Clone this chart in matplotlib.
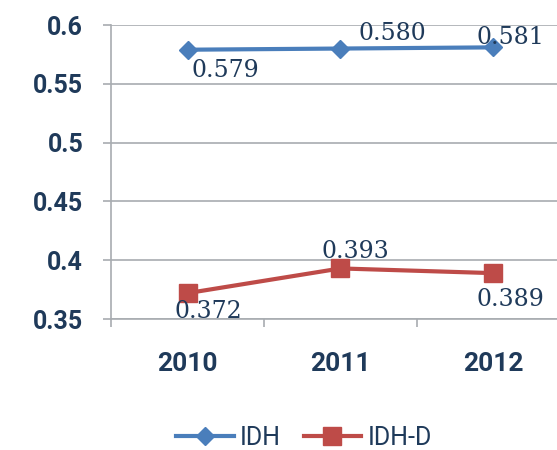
import matplotlib
matplotlib.use("Agg")
import matplotlib.pyplot as plt

# values
years = ["2010", "2011", "2012"]
idh = [0.579, 0.580, 0.581]
idh_d = [0.372, 0.393, 0.389]
y_ticks = [0.35, 0.4, 0.45, 0.5, 0.55, 0.6]
y_tick_labels = ["0.35", "0.4", "0.45", "0.5", "0.55", "0.6"]

navy = "#1f3a5a"
grid_grey = "#a8acb0"
blue = "#4a7ebb"
red = "#be4b48"

fig = plt.figure(figsize=(5.57, 4.5), dpi=100)
ax = fig.add_axes([0.1993, 0.2911, 0.824, 0.6533])

x = list(range(len(years)))
ax.plot(x, idh, color=blue, lw=3, marker="D", ms=9, label="IDH", zorder=3)
ax.plot(x, idh_d, color=red, lw=3, marker="s", ms=13, label="IDH-D", zorder=3)

# data labels, offsets in points (Excel put them a bit all over the place)
offsets_idh = [(27, -15), (37, 11), (12, 7)]
offsets_idh_d = [(15, -13), (11, 12), (12, -19)]
for xi, v, off in zip(x, idh, offsets_idh):
    ax.annotate(f"{v:.3f}", (xi, v), xytext=off, textcoords="offset points",
                ha="center", va="center", fontsize=17, family="DejaVu Serif",
                color=navy, zorder=4)
for xi, v, off in zip(x, idh_d, offsets_idh_d):
    ax.annotate(f"{v:.3f}", (xi, v), xytext=off, textcoords="offset points",
                ha="center", va="center", fontsize=17, family="DejaVu Serif",
                color=navy, zorder=4)

ax.set_xlim(-0.5, 2.5)
ax.set_ylim(0.35, 0.6)
ax.set_yticks(y_ticks)
ax.set_yticklabels(y_tick_labels, fontsize=18, family="Roboto", fontweight="bold", color=navy)
ax.set_xticks(x)
ax.set_xticklabels(years, fontsize=19, family="Roboto", fontweight="bold", color=navy)
ax.set_xticks([-0.5, 0.5, 1.5, 2.5], minor=True)

ax.tick_params(axis="x", which="major", length=0, pad=24)
ax.tick_params(axis="x", which="minor", length=6, width=1.2, color=grid_grey)
ax.tick_params(axis="y", length=6, width=1.2, color=grid_grey, pad=14)

ax.yaxis.grid(True, color=grid_grey, lw=1.2)
ax.set_axisbelow(True)
for s in ["top", "right"]:
    ax.spines[s].set_visible(False)
for s in ["left", "bottom"]:
    ax.spines[s].set_color(grid_grey)
    ax.spines[s].set_linewidth(1.2)

leg = fig.legend(loc="center", bbox_to_anchor=(0.546, 0.027), ncol=2, frameon=False,
                 handlelength=2.3, handletextpad=0.25, columnspacing=0.9,
                 prop={"family": "Roboto", "size": 18})
for t in leg.get_texts():
    t.set_color(navy)

fig.savefig("out.png", dpi=100)
